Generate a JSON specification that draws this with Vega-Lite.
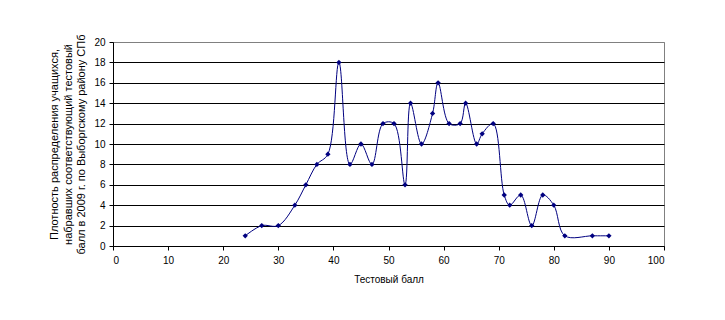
{
  "$schema": "https://vega.github.io/schema/vega-lite/v6.json",
  "width": 551,
  "height": 204,
  "autosize": "none",
  "padding": {"left": 113, "top": 42, "right": 61, "bottom": 74},
  "background": "white",
  "config": {
    "font": "Liberation Sans",
    "view": {"stroke": "#808080", "strokeWidth": 1},
    "axis": {
      "labelFont": "Liberation Sans",
      "titleFont": "Liberation Sans",
      "labelFontSize": 10,
      "titleFontSize": 10,
      "titleFontWeight": "normal",
      "labelColor": "black",
      "titleColor": "black",
      "domainColor": "black",
      "tickColor": "black",
      "tickSize": 4
    }
  },
  "data": {
    "values": [
      {"score": 24, "density": 1},
      {"score": 27, "density": 2},
      {"score": 30, "density": 2},
      {"score": 33, "density": 4},
      {"score": 35, "density": 6},
      {"score": 37, "density": 8},
      {"score": 39, "density": 9},
      {"score": 41, "density": 18},
      {"score": 43, "density": 8},
      {"score": 45, "density": 10},
      {"score": 47, "density": 8},
      {"score": 49, "density": 12},
      {"score": 51, "density": 12},
      {"score": 53, "density": 6},
      {"score": 54, "density": 14},
      {"score": 56, "density": 10},
      {"score": 58, "density": 13},
      {"score": 59, "density": 16},
      {"score": 61, "density": 12},
      {"score": 63, "density": 12},
      {"score": 64, "density": 14},
      {"score": 66, "density": 10},
      {"score": 67, "density": 11},
      {"score": 69, "density": 12},
      {"score": 71, "density": 5},
      {"score": 72, "density": 4},
      {"score": 74, "density": 5},
      {"score": 76, "density": 2},
      {"score": 78, "density": 5},
      {"score": 80, "density": 4},
      {"score": 82, "density": 1},
      {"score": 87, "density": 1},
      {"score": 90, "density": 1}
    ]
  },
  "encoding": {
    "x": {
      "field": "score",
      "type": "quantitative",
      "scale": {"domain": [0, 100], "nice": false, "zero": true},
      "axis": {
        "title": "Тестовый балл",
        "values": [0, 10, 20, 30, 40, 50, 60, 70, 80, 90, 100],
        "grid": false,
        "labelPadding": 5,
        "titlePadding": 9
      }
    },
    "y": {
      "field": "density",
      "type": "quantitative",
      "scale": {"domain": [0, 20], "nice": false},
      "axis": {
        "title": ["Плотность распределения учащихся,", "набравших соответствующий тестовый", "балл в 2009 г. по Выборгскому району СПб"],
        "values": [0, 2, 4, 6, 8, 10, 12, 14, 16, 18, 20],
        "grid": true,
        "gridColor": {"condition": {"test": "datum.value === 20", "value": "#808080"}, "value": "black"},
        "gridOpacity": 1,
        "gridWidth": 1,
        "labelPadding": 4,
        "titlePadding": 7,
        "titleFontSize": 11,
        "titleLineHeight": 13.5
      }
    }
  },
  "layer": [
    {
      "mark": {"type": "line", "interpolate": "catmull-rom", "color": "#000080", "strokeWidth": 1}
    },
    {
      "mark": {"type": "point", "shape": "diamond", "filled": true, "size": 28, "color": "#000080", "opacity": 1}
    }
  ]
}
